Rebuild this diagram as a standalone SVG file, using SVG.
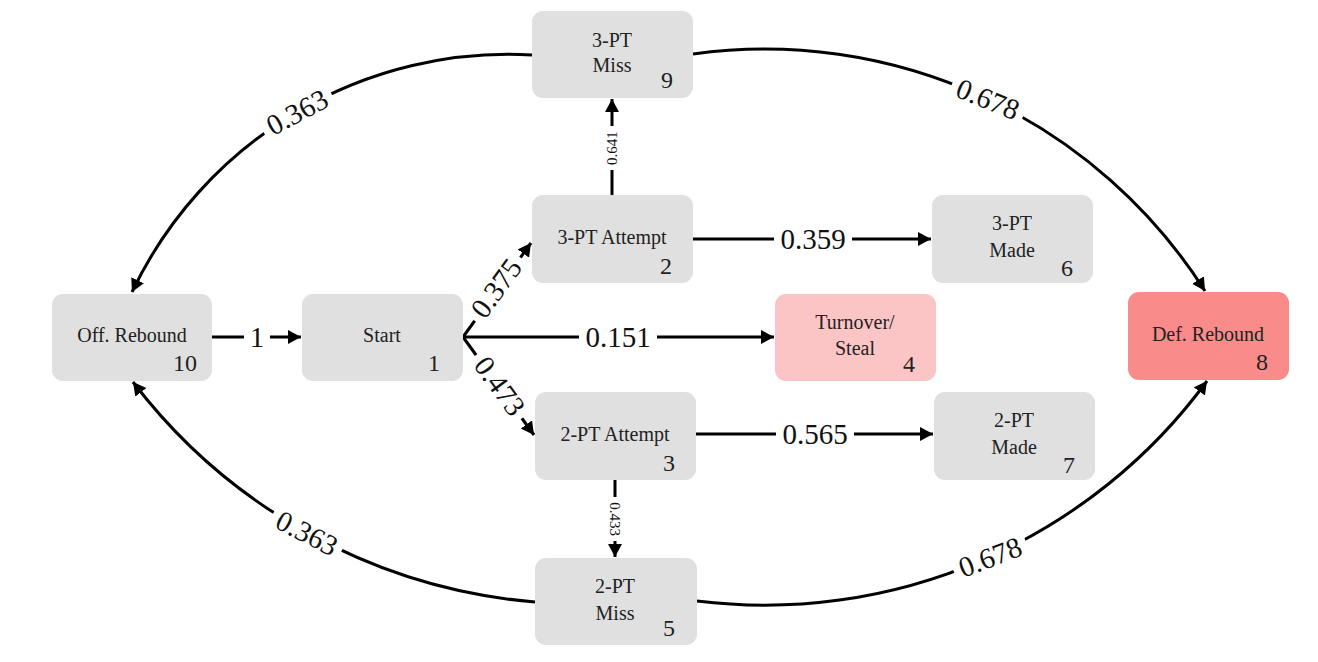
<svg xmlns="http://www.w3.org/2000/svg" width="1318" height="662" viewBox="0 0 1318 662">
<style>
  .box { fill: #e0e0e0; }
  .t { font-family: "Liberation Serif", "Times New Roman", serif; font-size: 20px; fill: #222; text-anchor: middle; }
  .n { font-family: "Liberation Serif", "Times New Roman", serif; font-size: 24px; fill: #222; text-anchor: end; }
  .e { fill: none; stroke: #000; stroke-width: 3; marker-end: url(#arr); }
  .lab { font-family: "Liberation Serif", "Times New Roman", serif; font-size: 29px; fill: #111; text-anchor: middle; }
  .sm { font-size: 15px; }
  .bg { fill: #fff; }
</style>
<defs>
  <marker id="arr" markerUnits="userSpaceOnUse" markerWidth="15" markerHeight="15" refX="13" refY="7" orient="auto">
    <path d="M0,0 L13,7 L0,14 z" fill="#000"/>
  </marker>
</defs>
<rect width="1318" height="662" fill="#fff"/>

<g id="connectors">
  <path class="e" d="M212,337 L301,337"/>
  <path class="e" d="M463,337 L774,337"/>
  <path class="e" d="M463,337 L531,243"/>
  <path class="e" d="M463,337 L534,435"/>
  <path class="e" d="M612,195 L612,99"/>
  <path class="e" d="M615,480 L615,557"/>
  <path class="e" d="M693,239 L931,239"/>
  <path class="e" d="M696,434 L933,434"/>
  <path class="e" d="M532,55 A417,417 0 0 0 132,292"/>
  <path class="e" d="M535,602 A564,564 0 0 1 133,382"/>
  <path class="e" d="M693,54 A522,522 0 0 1 1205,291"/>
  <path class="e" d="M697,601 A549,549 0 0 0 1207,381"/>

  <g transform="translate(257,337)"><rect class="bg" x="-13" y="-13" width="26" height="26"/><text class="lab" y="10">1</text></g>
  <g transform="translate(618,337)"><rect class="bg" x="-39" y="-13" width="78" height="26"/><text class="lab" y="10">0.151</text></g>
  <g transform="translate(813,239)"><rect class="bg" x="-39" y="-13" width="78" height="26"/><text class="lab" y="10">0.359</text></g>
  <g transform="translate(815,434)"><rect class="bg" x="-39" y="-13" width="78" height="26"/><text class="lab" y="10">0.565</text></g>
  <g transform="translate(496,288) rotate(-54)"><rect class="bg" x="-39" y="-13" width="78" height="26"/><text class="lab" y="10">0.375</text></g>
  <g transform="translate(500,386) rotate(54)"><rect class="bg" x="-39" y="-13" width="78" height="26"/><text class="lab" y="10">0.473</text></g>
  <g transform="translate(612,148) rotate(-90)"><rect class="bg" x="-22" y="-8" width="44" height="16"/><text class="lab sm" y="5">0.641</text></g>
  <g transform="translate(615,519) rotate(90)"><rect class="bg" x="-22" y="-8" width="44" height="16"/><text class="lab sm" y="5">0.433</text></g>
  <g transform="translate(297,112) rotate(-28)"><rect class="bg" x="-39" y="-13" width="78" height="26"/><text class="lab" y="10">0.363</text></g>
  <g transform="translate(307,533) rotate(27)"><rect class="bg" x="-39" y="-13" width="78" height="26"/><text class="lab" y="10">0.363</text></g>
  <g transform="translate(988,99) rotate(22)"><rect class="bg" x="-39" y="-13" width="78" height="26"/><text class="lab" y="10">0.678</text></g>
  <g transform="translate(990,557) rotate(-21)"><rect class="bg" x="-39" y="-13" width="78" height="26"/><text class="lab" y="10">0.678</text></g>
</g>

<g id="node10">
  <rect class="box" x="52" y="294" width="160" height="87" rx="11"/>
  <text class="t" x="132" y="342">Off. Rebound</text>
  <text class="n" x="197" y="371">10</text>
</g>
<g id="node1">
  <rect class="box" x="302" y="294" width="161" height="87" rx="11"/>
  <text class="t" x="382" y="342">Start</text>
  <text class="n" x="440" y="371">1</text>
</g>
<g id="node9">
  <rect class="box" x="532" y="11" width="161" height="87" rx="11"/>
  <text class="t" x="612" y="47">3-PT</text>
  <text class="t" x="612" y="72">Miss</text>
  <text class="n" x="673" y="88">9</text>
</g>
<g id="node2">
  <rect class="box" x="532" y="195" width="161" height="88" rx="11"/>
  <text class="t" x="612" y="244">3-PT Attempt</text>
  <text class="n" x="672" y="274">2</text>
</g>
<g id="node3">
  <rect class="box" x="535" y="392" width="161" height="88" rx="11"/>
  <text class="t" x="615" y="441">2-PT Attempt</text>
  <text class="n" x="675" y="471">3</text>
</g>
<g id="node5">
  <rect class="box" x="535" y="558" width="162" height="87" rx="11"/>
  <text class="t" x="615" y="593">2-PT</text>
  <text class="t" x="615" y="620">Miss</text>
  <text class="n" x="675" y="636">5</text>
</g>
<g id="node6">
  <rect class="box" x="932" y="195" width="161" height="88" rx="11"/>
  <text class="t" x="1012" y="230">3-PT</text>
  <text class="t" x="1012" y="257">Made</text>
  <text class="n" x="1073" y="276">6</text>
</g>
<g id="node4">
  <rect x="775" y="294" width="161" height="87" rx="11" fill="#fcc5c5"/>
  <text class="t" x="855" y="329">Turnover/</text>
  <text class="t" x="855" y="355">Steal</text>
  <text class="n" x="915" y="372">4</text>
</g>
<g id="node7">
  <rect class="box" x="934" y="392" width="161" height="88" rx="11"/>
  <text class="t" x="1014" y="427">2-PT</text>
  <text class="t" x="1014" y="454">Made</text>
  <text class="n" x="1075" y="473">7</text>
</g>
<g id="node8">
  <rect x="1128" y="292" width="161" height="88" rx="11" fill="#f98b8b"/>
  <text class="t" x="1208" y="341">Def. Rebound</text>
  <text class="n" x="1268" y="370">8</text>
</g>
</svg>
